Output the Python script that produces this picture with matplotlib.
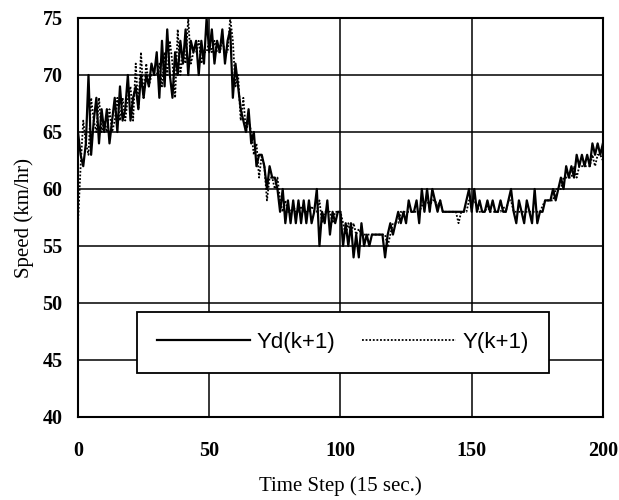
import numpy as np
import matplotlib.pyplot as plt

# speed series, one value per 15 s time step (0..200)
yd = [65, 63, 62, 64, 70, 63, 66, 68, 64, 67,
      65, 67, 64, 66, 68, 65, 69, 66, 67, 70,
      66, 68, 69, 67, 70, 68, 70, 69, 71, 70,
      72, 68, 73, 69, 74, 70, 68, 72, 70, 73,
      71, 74, 70, 73, 72, 73, 70, 73, 71, 75,
      72, 74, 71, 73, 72, 74, 71, 73, 74, 68,
      71, 69, 67, 66, 65, 67, 64, 65, 62, 63,
      63, 62, 60, 62, 61, 61, 60, 58, 60, 57,
      59, 57, 59, 57, 59, 57, 59, 57, 59, 57,
      58, 60, 55, 58, 57, 59, 56, 58, 57, 58,
      58, 55, 57, 55, 57, 54, 56, 54, 57, 55,
      56, 55, 56, 56, 56, 56, 56, 54, 56, 57,
      56, 57, 58, 57, 58, 57, 59, 58, 58, 59,
      57, 60, 58, 60, 58, 60, 59, 58, 59, 58,
      58, 58, 58, 58, 58, 58, 58, 58, 59, 60,
      58, 60, 58, 59, 58, 58, 59, 58, 59, 58,
      58, 59, 58, 58, 59, 60, 58, 57, 59, 58,
      57, 59, 58, 57, 60, 57, 58, 58, 59, 59,
      59, 60, 59, 60, 61, 60, 62, 61, 62, 61,
      63, 62, 63, 62, 63, 62, 64, 63, 64, 63,
      64]

y = [57, 62, 66, 64, 63, 68, 66, 65, 68, 65,
     66, 65, 67, 65, 66, 68, 66, 68, 66, 68,
     69, 66, 71, 67, 72, 68, 71, 69, 70, 70,
     70, 71, 69, 72, 70, 73, 71, 68, 74, 70,
     72, 71, 75, 71, 72, 72, 73, 71, 72, 72,
     73, 72, 73, 72, 72, 73, 72, 72, 75, 73,
     69, 70, 66, 68, 65, 66, 65, 63, 64, 61,
     63, 62, 59, 61, 61, 60, 61, 59, 58, 59,
     58, 58, 58.5, 58, 58, 58.5, 58, 58, 58, 58.5,
     58, 58, 59, 57, 58, 58, 58, 57, 58, 58,
     58, 57, 56, 57, 56, 57, 56, 56.5, 56, 56,
     56, 56, 56, 56, 56, 56, 56, 56, 55, 56,
     57, 57, 57, 58, 58, 58, 58, 58, 58, 58,
     58, 58.5, 59, 59, 58.5, 59, 59, 58.5, 59, 58,
     58, 58, 58, 58, 58, 57, 58, 58, 58, 59,
     59, 59, 58.5, 58, 58, 58, 58.5, 58, 58, 58,
     58, 58, 58.5, 58, 59, 59, 58, 58, 58, 58,
     58, 58, 58, 58, 58, 58, 58, 58.5, 59, 59,
     59, 59, 60, 60, 60, 61, 61, 61, 61, 62,
     61, 62, 62, 62, 62, 62, 63, 62, 63, 63,
     62.5]

t = np.arange(len(yd))
xticks = [0, 50, 100, 150, 200]
yticks = [40, 45, 50, 55, 60, 65, 70, 75]

serif = ['Liberation Serif', 'DejaVu Serif']

fig = plt.figure(figsize=(6.19, 5.0), dpi=100)
ax = fig.add_axes([0.126, 0.166, 0.848, 0.798])

ax.plot(t, yd, color='black', lw=1.6, label='Yd(k+1)', zorder=3)
ax.plot(t, y, color='black', lw=1.3, linestyle=(0, (1, 1)), label='Y(k+1)', zorder=3)

ax.set_xlim(0, 200)
ax.set_ylim(40, 75)
ax.set_xticks(xticks)
ax.set_yticks(yticks)
ax.grid(True, color='black', lw=1.1, zorder=1)
for s in ax.spines.values():
    s.set_linewidth(1.5)

ax.tick_params(length=0)
ax.tick_params(axis='x', pad=17)
ax.tick_params(axis='y', pad=11)
for lab in ax.get_xticklabels() + ax.get_yticklabels():
    lab.set_fontfamily(serif)
    lab.set_fontsize(14.5)
    lab.set_fontweight('bold')

ax.set_xlabel('Time Step (15 sec.)', fontsize=15, family=serif, labelpad=11)
ax.set_ylabel('Speed (km/hr)', fontsize=15, family=serif, labelpad=6)

leg = ax.legend(loc='upper left', bbox_to_anchor=(0.112, 0.263), ncol=2,
                frameon=True, fancybox=False, edgecolor='black',
                handlelength=4.2, handletextpad=0.3, columnspacing=1.2,
                borderpad=0.9, borderaxespad=0,
                prop={'family': ['Liberation Sans', 'DejaVu Sans'], 'size': 16})
leg.get_frame().set_linewidth(1.3)
leg.get_frame().set_alpha(1)
leg.set_zorder(5)

fig.savefig('out.png', dpi=100)
